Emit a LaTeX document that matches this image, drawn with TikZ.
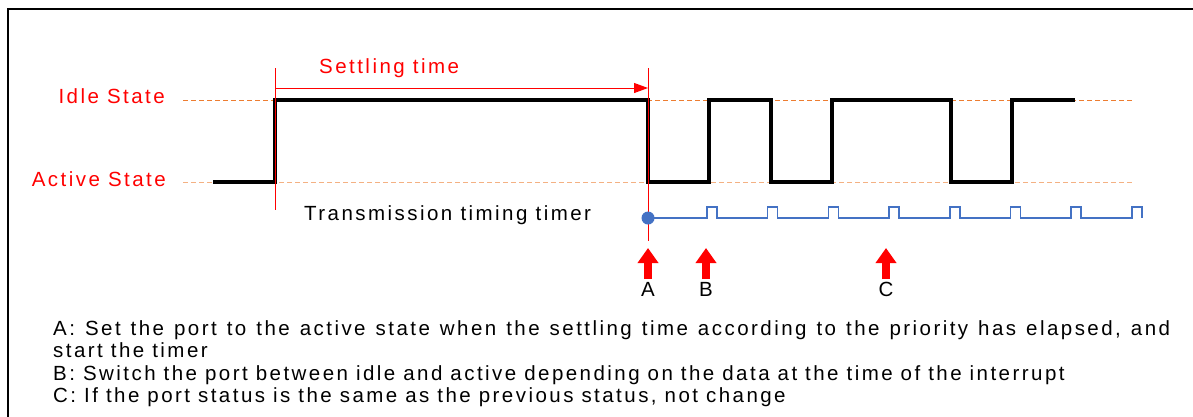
\documentclass[tikz,border=0pt]{standalone}
\usepackage{fontspec}
\setmainfont{Liberation Sans}[LetterSpace=12]
\usetikzlibrary{arrows.meta, positioning}

\definecolor{idleline}{HTML}{ED7D31}
\definecolor{activeline}{HTML}{F4B183}
\definecolor{timerblue}{HTML}{4472C4}
\newcommand{\notefont}{\fontsize{20.5}{24}\selectfont\spaceskip=8pt plus 1pt\relax}

\begin{document}
\begin{tikzpicture}[x=1pt, y=-1pt,
  txt/.style = {inner sep=0pt, font=\fontsize{20.5}{24}\selectfont},
  note/.style = {inner sep=0pt, anchor=base west, font=\notefont},
  level/.style = {dash pattern=on 5pt off 3pt, line width=1pt},
  signal/.style = {line width=3.5pt, line join=miter},
  marker/.style = {red, line width=1pt},
  bigarrow/.style = {red, line width=8pt, -{Triangle[length=15pt, width=20pt]}}]
\useasboundingbox (0,0) rectangle (1193,416);
\draw[line width=2pt] (8,9) rectangle (1260,460);

% state levels
\node[txt, red, anchor=base east] (idle) at (165,103) {Idle State};
\node[txt, red, anchor=base east] (active) at (166,186) {Active State};
\coordinate (idleend) at (1133,100);
\coordinate (activeend) at (1133,182);
\draw[level, idleline] (183,100) -- (idleend);
\draw[level, activeline] (183,182) -- (activeend);

% port signal
\draw[signal] (213,182) -- (275,182) -- (275,100) -- (648,100) -- (648,182)
  -- (709,182) -- (709,100) -- (771,100) -- (771,182) -- (832,182)
  -- (832,100) -- (951,100) -- (951,182) -- (1012,182) -- (1012,100)
  -- (1075,100);

% settling time
\coordinate (s1top) at (275,68);
\coordinate (s1bot) at (275,210);
\coordinate (s2top) at (648,68);
\coordinate (s2bot) at (648,241);
\draw[marker] (s1top) -- (s1bot);
\draw[marker] (s2top) -- (s2bot);
\draw[marker, -{Triangle[length=14pt, width=10pt]}] (275,88) -- (648,88);
\node[txt, red, anchor=base west] (settle) at (319,73) {Settling time};

% timer
\node[txt, anchor=base west] (timer) at (304,220) {Transmission timing timer};
\node[circle, fill=timerblue, inner sep=0pt, minimum size=13pt] (start) at (648,218) {};
\draw[timerblue, line width=1.5pt] (start.center)
  \foreach \i in {0,...,7} { -- ({707+60.7*\i},218) -- ++(0,-11) -- ++(10,0) -- ++(0,11) };

% events
\node[txt, anchor=base] (labA) at (648,296) {A};
\node[txt, anchor=base] (labB) at (706,296) {B};
\node[txt, anchor=base] (labC) at (886,296) {C};
\coordinate (tipA) at (648,248);
\coordinate (tipB) at (706,248);
\coordinate (tipC) at (886,248);
\draw[bigarrow] (648,279) -- (tipA);
\draw[bigarrow] (706,279) -- (tipB);
\draw[bigarrow] (886,279) -- (tipC);

% notes
\node[note] (noteA) at (53,335) {\spaceskip=10pt\relax A: Set the port to the active state when the settling time according to the priority has elapsed, and};
\node[note] (noteA2) at (53,357) {start the timer};
\node[note] (noteB) at (53,380) {B: Switch the port between idle and active depending on the data at the time of the interrupt};
\node[note] (noteC) at (53,402) {C: If the port status is the same as the previous status, not change};
\end{tikzpicture}
\end{document}
